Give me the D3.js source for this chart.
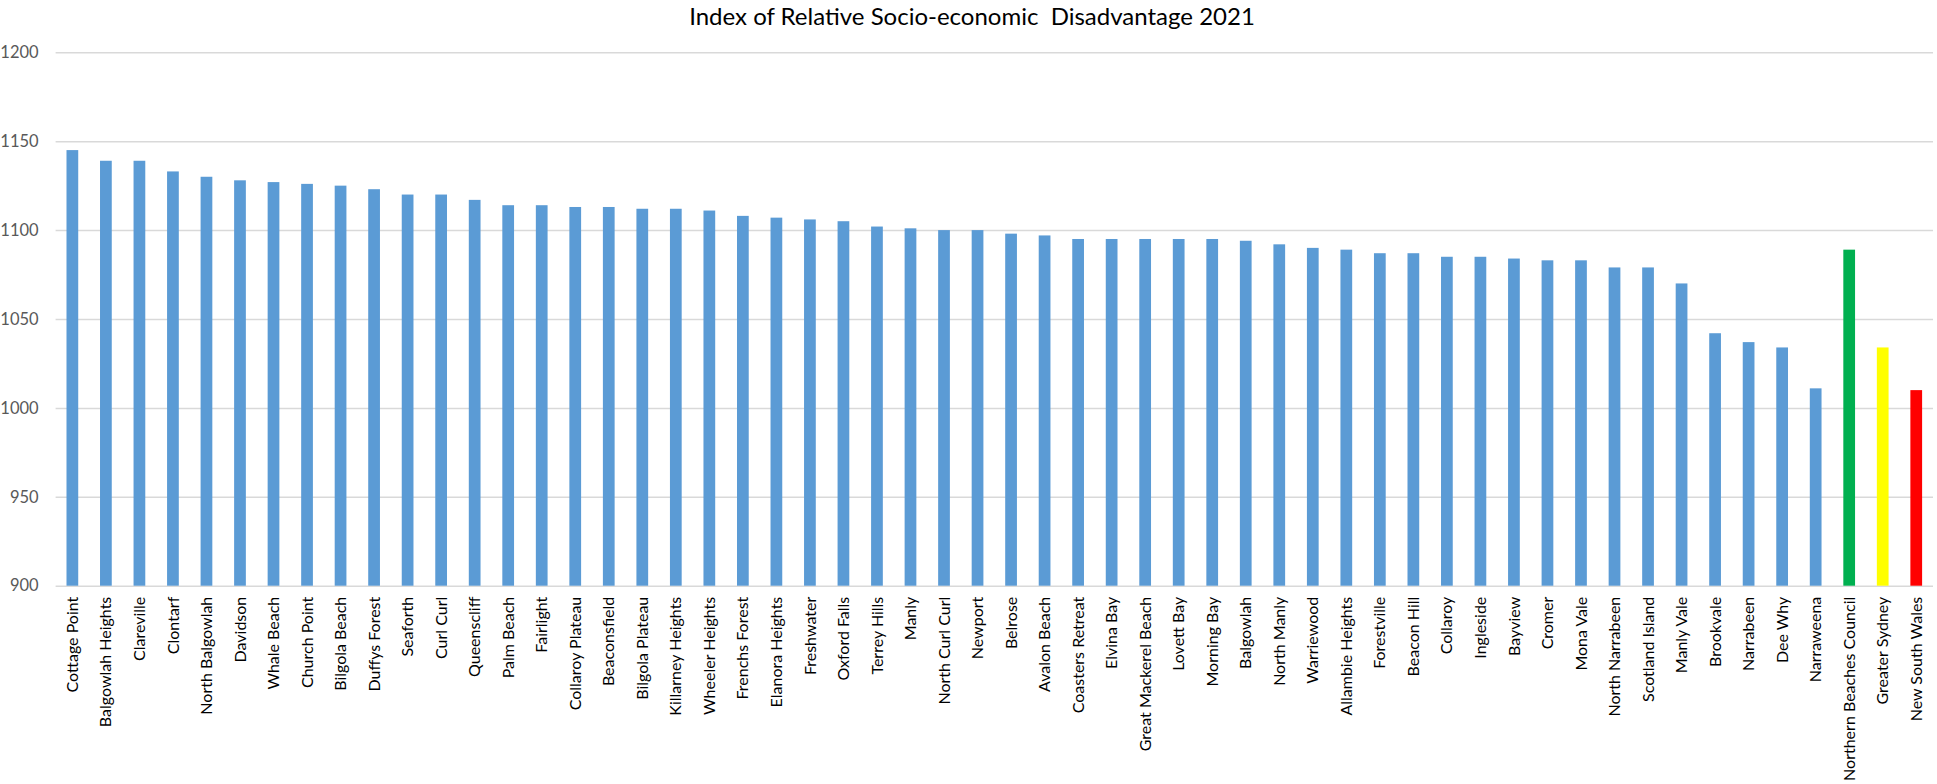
<!DOCTYPE html>
<html>
<head>
<meta charset="utf-8">
<script src="https://cdn.jsdelivr.net/npm/d3@7"></script>
<style>
  html, body { margin: 0; padding: 0; background: #fff; }
  svg { display: block; font-family: Lato, "Open Sans", sans-serif; }
</style>
</head>
<body>
<div id="chart"></div>
<script>
const title = 'Index of Relative Socio-economic  Disadvantage 2021';

const suburbs = [
  'Cottage Point', 'Balgowlah Heights', 'Clareville', 'Clontarf', 'North Balgowlah',
  'Davidson', 'Whale Beach', 'Church Point', 'Bilgola Beach', 'Duffys Forest',
  'Seaforth', 'Curl Curl', 'Queenscliff', 'Palm Beach', 'Fairlight',
  'Collaroy Plateau', 'Beaconsfield', 'Bilgola Plateau', 'Killarney Heights', 'Wheeler Heights',
  'Frenchs Forest', 'Elanora Heights', 'Freshwater', 'Oxford Falls', 'Terrey Hills',
  'Manly', 'North Curl Curl', 'Newport', 'Belrose', 'Avalon Beach',
  'Coasters Retreat', 'Elvina Bay', 'Great Mackerel Beach', 'Lovett Bay', 'Morning Bay',
  'Balgowlah', 'North Manly', 'Warriewood', 'Allambie Heights', 'Forestville',
  'Beacon Hill', 'Collaroy', 'Ingleside', 'Bayview', 'Cromer',
  'Mona Vale', 'North Narrabeen', 'Scotland Island', 'Manly Vale', 'Brookvale',
  'Narrabeen', 'Dee Why', 'Narraweena'
];
const suburbScores = [
  1145, 1139, 1139, 1133, 1130,
  1128, 1127, 1126, 1125, 1123,
  1120, 1120, 1117, 1114, 1114,
  1113, 1113, 1112, 1112, 1111,
  1108, 1107, 1106, 1105, 1102,
  1101, 1100, 1100, 1098, 1097,
  1095, 1095, 1095, 1095, 1095,
  1094, 1092, 1090, 1089, 1087,
  1087, 1085, 1085, 1084, 1083,
  1083, 1079, 1079, 1070, 1042,
  1037, 1034, 1011
];

// benchmark areas drawn after the suburbs
const regions = ['Northern Beaches Council', 'Greater Sydney', 'New South Wales'];
const regionScores = [1089, 1034, 1010];

const yTicks = [900, 950, 1000, 1050, 1100, 1150, 1200];

const categories = suburbs.concat(regions);
const values = suburbScores.concat(regionScores);

const regionColors = {
  'Northern Beaches Council': '#00b050',
  'Greater Sydney': '#ffff00',
  'New South Wales': '#ff0000'
};

const width = 1937;
const height = 784;
const margin = { top: 52.3, right: 4, bottom: 198.3, left: 55.6 };
const plotW = width - margin.left - margin.right;
const plotH = height - margin.top - margin.bottom;

const svg = d3.select('#chart')
  .append('svg')
  .attr('width', width)
  .attr('height', height);

svg.append('text')
  .attr('x', 972)
  .attr('y', 25)
  .attr('text-anchor', 'middle')
  .attr('font-size', '24px')
  .attr('fill', '#000')
  .style('white-space', 'pre')
  .text(title);

const g = svg.append('g')
  .attr('transform', `translate(${margin.left},${margin.top})`);

const x = d3.scaleBand()
  .domain(categories)
  .range([0, plotW])
  .paddingInner(0.65)
  .paddingOuter(0.325);

const y = d3.scaleLinear()
  .domain([900, 1200])
  .range([plotH, 0]);

// y axis with gridlines
const yAxis = g.append('g')
  .call(d3.axisLeft(y).tickValues(yTicks).tickFormat(d3.format('d')).tickSize(-plotW).tickPadding(17));
yAxis.select('.domain').remove();
yAxis.selectAll('line')
  .attr('stroke', '#d9d9d9')
  .attr('stroke-width', 1.5);
yAxis.selectAll('text')
  .attr('fill', '#595959')
  .attr('font-size', '16.5px')
  .attr('font-family', 'Lato, sans-serif');

// bars
g.selectAll('rect.bar')
  .data(categories)
  .enter()
  .append('rect')
  .attr('class', 'bar')
  .attr('x', d => x(d))
  .attr('width', x.bandwidth())
  .attr('y', (d, i) => y(values[i]))
  .attr('height', (d, i) => plotH - y(values[i]))
  .attr('fill', d => regionColors[d] || '#5b9bd5');

// x axis labels
const xAxis = g.append('g')
  .attr('transform', `translate(0,${plotH})`)
  .call(d3.axisBottom(x).tickSize(0).tickPadding(0));
xAxis.select('.domain').remove();
xAxis.selectAll('text')
  .attr('font-size', '16px')
  .attr('font-family', 'Lato, sans-serif')
  .attr('fill', '#000')
  .attr('text-anchor', 'end')
  .attr('transform', 'rotate(-90)')
  .attr('x', -11)
  .attr('y', 0)
  .attr('dy', '0.35em');
</script>
</body>
</html>
